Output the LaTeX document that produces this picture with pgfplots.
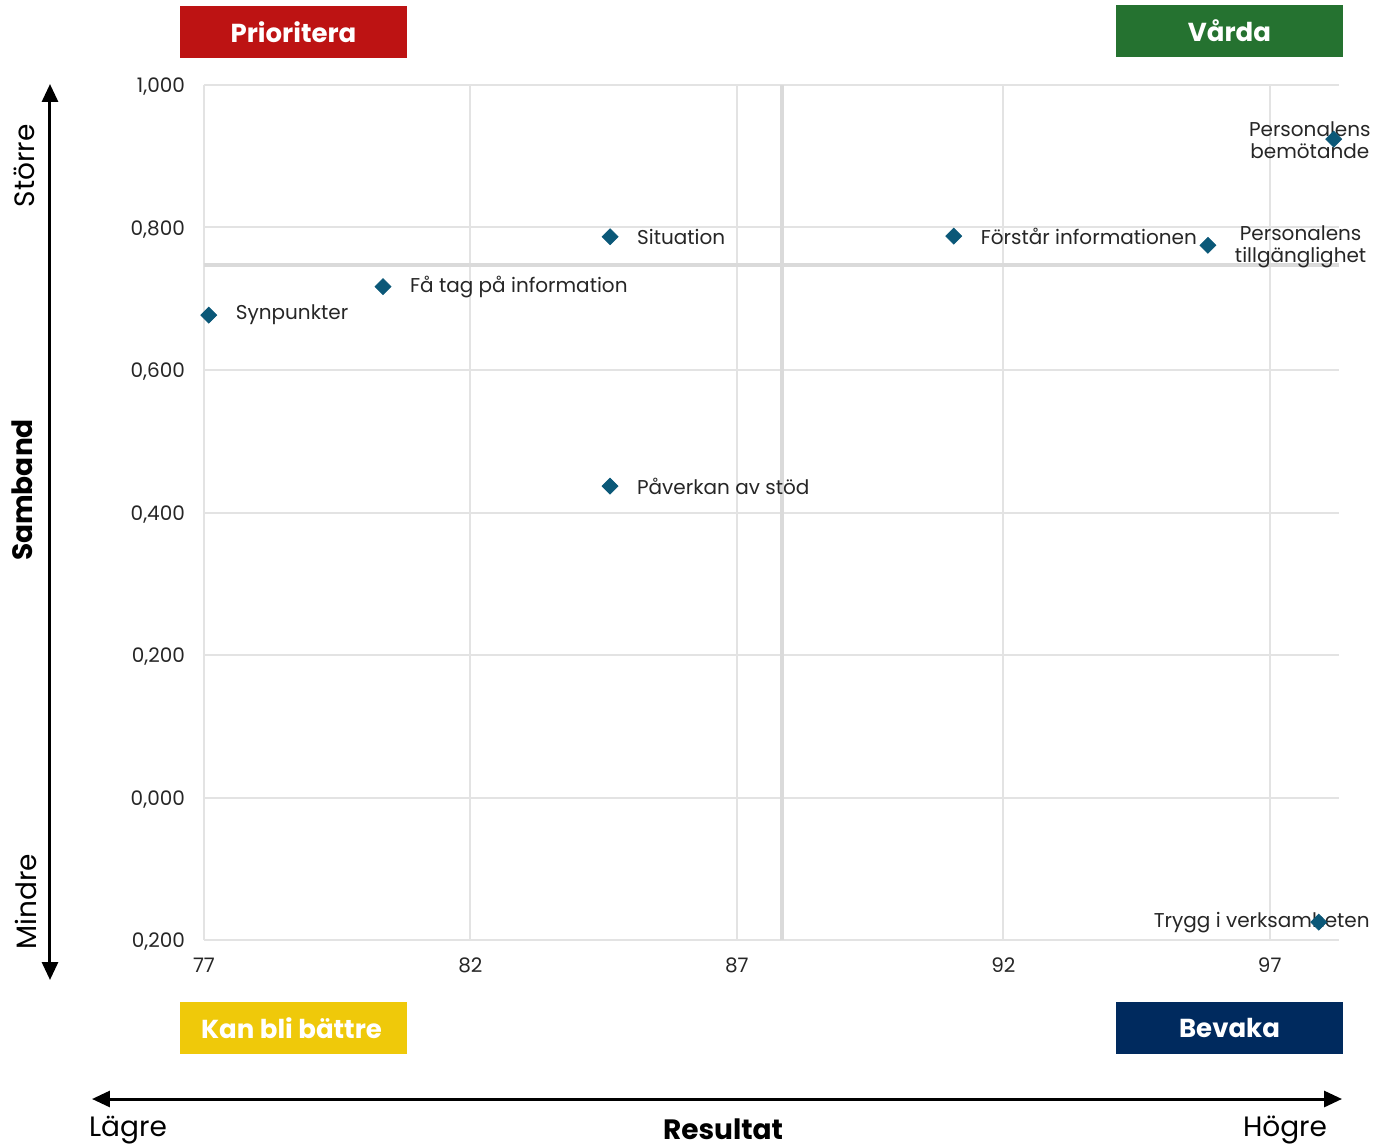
\documentclass[border=0pt]{standalone}
\usepackage{pgfplots}
\pgfplotsset{compat=1.18}
\usepackage{fontspec}
\setmainfont{Poppins}
\usetikzlibrary{arrows.meta}
\definecolor{prio}{HTML}{BD1313}
\definecolor{varda}{HTML}{257230}
\definecolor{kan}{HTML}{EFC90A}
\definecolor{bevaka}{HTML}{002A5E}
\definecolor{pt}{HTML}{0B5878}
\definecolor{txt}{HTML}{262626}
\definecolor{gridc}{HTML}{E3E3E3}
\definecolor{meanc}{HTML}{DADADA}
\newcommand{\lbl}{\fontsize{10}{11}\selectfont}

\begin{document}
\begin{tikzpicture}
\begin{axis}[
  scale only axis, width=567.5pt, height=427.5pt,
  xmin=77, xmax=98.3, ymin=-0.2, ymax=1,
  clip=false,
  xtick={77,82,87,92,97}, xticklabels={77,82,87,92,97},
  ytick={-0.2,0,0.2,0.4,0.6,0.8,1},
  yticklabels={{0,200},{0,000},{0,200},{0,400},{0,600},{0,800},{1,000}},
  grid=major, grid style={draw=gridc, line width=1pt},
  axis line style={draw=none}, major tick length=0pt,
  tick label style={font=\fontsize{10}{11}\selectfont, text=txt},
  yticklabel style={xshift=-6pt, yshift=-1pt},
  xticklabel style={yshift=-5.5pt},
]
% mean lines
\addplot[meanc, line width=2pt] coordinates {(87.84,-0.2) (87.84,1)};
\addplot[meanc, line width=2pt] coordinates {(77,0.747) (98.3,0.747)};

% labels
\node[anchor=west, xshift=10pt, text=txt, font=\lbl] at (axis cs:77.09,0.677) {Synpunkter};
\node[anchor=west, xshift=10pt, text=txt, font=\lbl] at (axis cs:80.36,0.717) {Få tag på information};
\node[anchor=west, xshift=10pt, text=txt, font=\lbl] at (axis cs:84.62,0.787) {Situation};
\node[anchor=west, xshift=10pt, text=txt, font=\lbl] at (axis cs:84.62,0.437) {Påverkan av stöd};
\node[anchor=west, xshift=10pt, text=txt, font=\lbl] at (axis cs:91.07,0.788) {Förstår informationen};
\node[anchor=west, xshift=10pt, text=txt, font=\lbl, align=center] at (axis cs:95.84,0.773) {Personalens\\tillgänglighet};
\node[anchor=east, xshift=22pt, text=txt, font=\lbl, align=center] at (axis cs:98.2,0.922) {Personalens\\bemötande};
\node[anchor=east, xshift=29pt, text=txt, font=\lbl] at (axis cs:97.92,-0.175) {Trygg i verksamheten};

% data points
\addplot[only marks, mark=square*, mark size=2.8pt, mark options={rotate=45, fill=pt, draw=pt}]
  coordinates {
  (77.09,0.677)
  (80.36,0.717)
  (84.62,0.787)
  (84.62,0.437)
  (91.07,0.788)
  (95.84,0.775)
  (98.20,0.924)
  (97.92,-0.175)
  };
\end{axis}

% pixel frame of the reference: 0.5pt per pixel, origin at the axis corner
\begin{scope}[x=0.5pt, y=-0.5pt, shift={(-102pt,470pt)}]
  % quadrant boxes
  \fill[prio]   (180,6) rectangle (407,58);
  \fill[varda]  (1116,5) rectangle (1343,57);
  \fill[kan]    (180,1002) rectangle (407,1054);
  \fill[bevaka] (1116,1002) rectangle (1343,1054);
  \node[text=white, font=\fontsize{13}{14}\selectfont\bfseries] at (293.5,32) {Prioritera};
  \node[text=white, font=\fontsize{13}{14}\selectfont\bfseries] at (1229.5,31) {Vårda};
  \node[text=white, font=\fontsize{13}{14}\selectfont\bfseries, anchor=west] at (194,1028) {Kan bli bättre};
  \node[text=white, font=\fontsize{13}{14}\selectfont\bfseries] at (1229.5,1028) {Bevaka};
  % arrows
  \draw[line width=1.5pt, {Triangle[width=8pt,length=9pt]}-{Triangle[width=8pt,length=9pt]}] (50,84) -- (50,980);
  \draw[line width=1.5pt, {Triangle[width=8pt,length=9pt]}-{Triangle[width=8pt,length=9pt]}] (92,1099) -- (1342,1099);
  % arrow texts
  \node[rotate=90, font=\fontsize{14}{15}\selectfont] at (24,166) {Större};
  \node[rotate=90, font=\fontsize{14}{15}\selectfont\bfseries] at (22,490) {Samband};
  \node[rotate=90, font=\fontsize{14}{15}\selectfont] at (26,902) {Mindre};
  \node[font=\fontsize{14}{15}\selectfont] at (128,1130) {Lägre};
  \node[font=\fontsize{14}{15}\selectfont\bfseries] at (723,1129) {Resultat};
  \node[font=\fontsize{14}{15}\selectfont] at (1285,1130) {Högre};
  \pgfresetboundingbox
  \useasboundingbox (0,0) rectangle (1375,1147);
\end{scope}
\end{tikzpicture}
\end{document}
